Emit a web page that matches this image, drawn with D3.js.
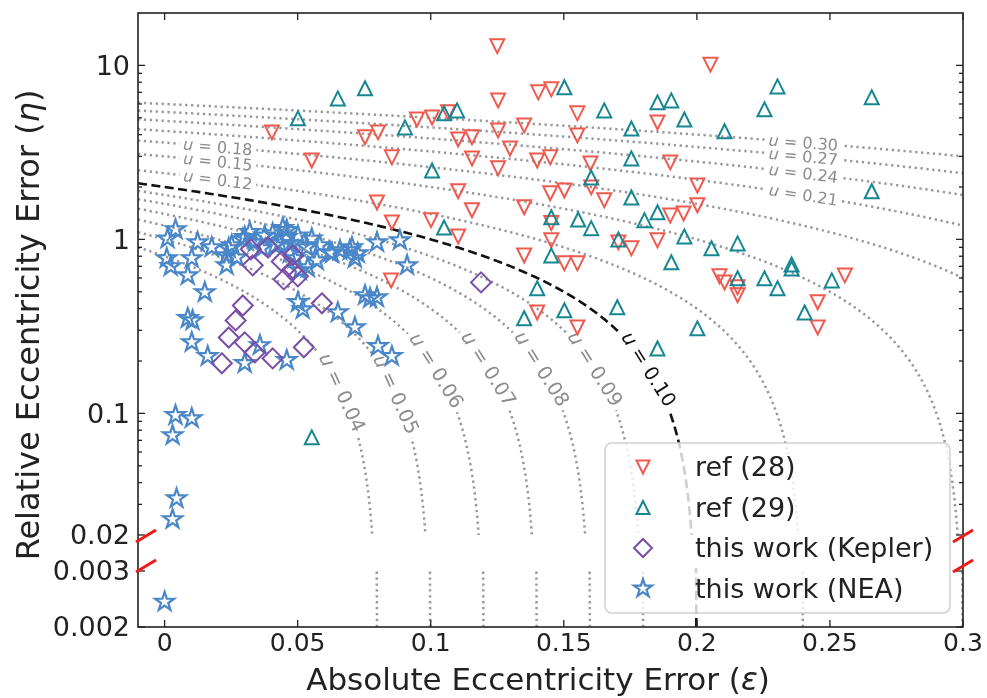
<!DOCTYPE html>
<html>
<head>
<meta charset="utf-8">
<script src="https://cdn.jsdelivr.net/npm/d3@7"></script>
<style>
  body { margin: 0; background: #fff; }
  text { font-family: "DejaVu Sans", sans-serif; fill: #222; }
</style>
</head>
<body>
<div id="chart"></div>
<script>
// ---- data: [absolute error eps, relative error eta] ----
var ref28 = [
  [0.0403,4.12],[0.0553,2.84],[0.0753,3.86],[0.0802,4.12],[0.0854,2.96],[0.0948,4.89],
  [0.1005,5.02],[0.1065,5.37],[0.0798,1.63],[0.0854,1.25],[0.1001,1.29],[0.1103,3.75],
  [0.1103,1.89],[0.1103,1.04],[0.1155,3.86],[0.1155,2.92],[0.1155,1.47],[0.1253,6.29],
  [0.1253,4.23],[0.1253,2.56],[0.1298,3.33],[0.1351,4.52],[0.1351,1.53],[0.1351,0.809],
  [0.140,2.84],[0.1404,7.0],[0.1453,7.28],[0.1449,2.96],[0.1449,1.84],[0.1453,1.24],
  [0.1453,0.987],[0.1502,1.91],[0.1502,0.728],[0.1551,5.30],[0.1551,3.96],[0.1551,0.728],
  [0.160,2.73],[0.1603,1.99],[0.1652,1.68],[0.1705,0.961],[0.1754,0.888],[0.1852,4.70],
  [0.1852,0.987],[0.190,2.77],[0.190,1.37],[0.195,1.41],[0.2002,2.04],[0.2002,1.57],
  [0.2051,10.1],[0.2085,0.613],[0.2104,0.566],[0.2153,0.530],[0.2153,0.477],[0.2556,0.621],
  [0.2454,0.435],[0.2454,0.312],[0.0851,0.581],[0.140,0.380],[0.1551,0.312],[0.125,12.9]
];
var ref29 = [
  [0.0501,4.96],[0.0651,6.46],[0.0753,7.38],[0.0903,4.40],[0.1005,2.49],[0.105,5.30],
  [0.1099,5.51],[0.105,1.17],[0.1502,7.48],[0.1652,5.51],[0.1852,6.13],[0.1904,6.29],
  [0.1953,4.89],[0.1754,4.34],[0.1754,2.92],[0.1603,2.27],[0.1754,1.74],[0.1852,1.43],
  [0.1803,1.29],[0.1554,1.30],[0.1603,1.16],[0.1453,1.34],[0.1705,1.0],[0.1953,1.04],
  [0.2055,0.888],[0.1904,0.738],[0.1453,0.809],[0.2104,4.18],[0.2303,7.57],[0.2657,6.55],
  [0.2254,5.59],[0.2657,1.89],[0.2153,0.948],[0.2153,0.597],[0.2254,0.597],[0.2303,0.523],
  [0.2356,0.718],[0.2356,0.681],[0.2507,0.581],[0.2405,0.380],[0.2002,0.308],[0.140,0.523],
  [0.1351,0.352],[0.1502,0.391],[0.1701,0.407],[0.1852,0.236],[0.0553,0.0728]
];
var kepler = [
  [0.0324,0.877],[0.0388,0.900],[0.0331,0.709],[0.044,0.747],[0.0482,0.809],[0.0448,0.589],
  [0.0501,0.613],[0.0478,0.664],[0.0294,0.417],[0.0267,0.342],[0.0241,0.273],[0.0301,0.256],
  [0.0339,0.224],[0.0215,0.194],[0.0406,0.207],[0.0523,0.240],[0.0591,0.429],[0.1189,0.566]
];
var nea = [
  [0.0041,1.14],[0.0011,1.01],[0.0008,0.778],[0.0023,0.70],[0.0124,0.961],[0.0177,0.90],
  [0.0102,0.778],[0.0087,0.621],[0.0151,0.496],[0.0233,0.709],[0.0252,0.924],[0.0233,0.809],
  [0.0271,0.788],[0.0301,1.03],[0.0339,0.961],[0.0376,1.05],[0.0406,1.08],[0.0444,1.16],
  [0.0433,0.948],[0.0459,1.03],[0.0459,1.13],[0.0501,1.05],[0.0534,0.90],[0.0583,0.924],
  [0.0629,0.831],[0.0572,0.757],[0.0538,0.690],[0.0508,0.663],[0.0704,0.90],[0.0726,0.831],
  [0.0715,0.778],[0.0798,0.961],[0.0884,0.987],[0.0911,0.709],[0.0753,0.477],[0.0772,0.458],
  [0.0798,0.464],[0.0501,0.435],[0.0519,0.396],[0.0087,0.352],[0.0105,0.342],[0.0102,0.256],
  [0.0162,0.213],[0.0301,0.194],[0.0358,0.246],[0.0459,0.202],[0.0651,0.380],[0.0715,0.312],
  [0.0802,0.243],[0.0854,0.213],[0.0041,0.0975],[0.0102,0.0936],[0.003,0.0748],[0.0045,0.0324],
  [0.003,0.0246],[0.0,0.0024],[0.0241,0.888],[0.0294,1.0],[0.0621,0.842],[0.0696,0.865],
  [0.047,0.831],[0.0489,0.778],[0.0365,0.888],[0.032,1.10],[0.0414,0.924],[0.0478,0.948],
  [0.0553,1.01],[0.0659,0.865]
];

// constant-u levels and where each label sits along its curve (eps)
var uLevels   = [0.04, 0.05, 0.06, 0.07, 0.08, 0.09, 0.10, 0.12, 0.15, 0.18, 0.21, 0.24, 0.27, 0.30];
var labelEps  = [0.0668, 0.0871, 0.1023, 0.1219, 0.1419, 0.1619, 0.182, 0.02, 0.02, 0.02, 0.24, 0.24, 0.24, 0.24];
var xTicks = [0, 0.05, 0.1, 0.15, 0.2, 0.25, 0.3];
var yTicksTop = [0.02, 0.1, 1, 10];
var yTicksBot = [0.002, 0.003];
var legendNames = ["ref (28)", "ref (29)", "this work (Kepler)", "this work (NEA)"];

// eta on the constant-u contour:  u = eps/2 + 0.05*eta
function etaOf(u, eps) { return (2 * u - eps) / 0.1; }

var W = 987, H = 698;
var L = 138, R = 963, T = 13, B = 627;
var topBottom = 535, botTop = 568;

var svg = d3.select("#chart").append("svg")
  .attr("width", W).attr("height", H);

var x = d3.scaleLinear().domain([-0.01, 0.3]).range([L, R]);
var yTop = d3.scaleLog().domain([0.02, 20]).range([topBottom, T]);
var yBot = d3.scaleLog().domain([0.002, 0.003]).range([B, 571]);
var etaBotMax = yBot.invert(botTop);

function yOf(eta) { return eta >= 0.0199 ? yTop(eta) : yBot(eta); }

var defs = svg.append("defs");
defs.append("clipPath").attr("id", "clipTop").append("rect")
  .attr("x", L).attr("y", T).attr("width", R - L).attr("height", topBottom - T);
defs.append("clipPath").attr("id", "clipBot").append("rect")
  .attr("x", L).attr("y", botTop).attr("width", R - L).attr("height", B - botTop);
var mask = defs.append("mask").attr("id", "gaps").attr("maskUnits", "userSpaceOnUse")
  .attr("x", 0).attr("y", 0).attr("width", W).attr("height", H);
mask.append("rect").attr("width", W).attr("height", H).attr("fill", "white");

// ---- contour curves ----
var curves = svg.append("g").attr("mask", "url(#gaps)");
var line = d3.line();

uLevels.forEach(function(u) {
  var dashed = Math.abs(u - 0.10) < 1e-9;
  var col = dashed ? "#111" : "#999";
  var dash = dashed ? "9,4.5" : "2.3,3.6";
  var sw = dashed ? 2.6 : 2.5;
  var etaMax = etaOf(u, -0.01);
  var pts = [];
  var n = 400;
  for (var i = 0; i <= n; i++) {
    var eta = Math.exp(Math.log(etaMax) + (Math.log(0.0195) - Math.log(etaMax)) * i / n);
    var e = 2 * u - 0.1 * eta;
    pts.push([x(e), yTop(eta)]);
  }
  curves.append("path").attr("clip-path", "url(#clipTop)")
    .attr("d", line(pts)).attr("fill", "none")
    .attr("stroke", col).attr("stroke-width", sw).attr("stroke-dasharray", dash);
  // lower panel part
  var low = [];
  for (var j = 0; j <= 20; j++) {
    var et = 0.002 + (etaBotMax - 0.002) * j / 20;
    low.push([x(2 * u - 0.1 * et), yBot(et)]);
  }
  curves.append("path").attr("clip-path", "url(#clipBot)")
    .attr("d", line(low)).attr("fill", "none")
    .attr("stroke", col).attr("stroke-width", sw).attr("stroke-dasharray", dash);
});

// ---- contour labels (inline, with gaps cut in the curves) ----
var labels = svg.append("g");
uLevels.forEach(function(u, i) {
  var e = labelEps[i];
  var d = 0.002;
  var p1 = [x(e - d), yTop(etaOf(u, e - d))];
  var p2 = [x(e + d), yTop(etaOf(u, e + d))];
  var cx = x(e), cy = yTop(etaOf(u, e));
  var ang = Math.atan2(p2[1] - p1[1], p2[0] - p1[0]) * 180 / Math.PI;
  var big = u <= 0.10 + 1e-9;
  var fs = big ? 19.5 : 16;
  var t = labels.append("text")
    .attr("transform", "translate(" + cx + "," + cy + ") rotate(" + ang + ")")
    .attr("text-anchor", "middle").attr("dy", "0.35em")
    .style("font-size", fs + "px")
    .style("fill", Math.abs(u - 0.10) < 1e-9 ? "#111" : "#8c8c8c");
  t.append("tspan").style("font-style", "italic").text("u");
  t.append("tspan").text(" = " + u.toFixed(2));
  var w = t.node().getComputedTextLength();
  mask.append("rect")
    .attr("transform", "translate(" + cx + "," + cy + ") rotate(" + ang + ")")
    .attr("x", -w / 2 - 4).attr("y", -fs * 0.6).attr("width", w + 8).attr("height", fs * 1.2)
    .attr("fill", "black");
});

// ---- marker shapes ----
function triDown(h) { return "M0," + h + "L" + (-h) + "," + (-h) + "L" + h + "," + (-h) + "Z"; }
function triUp(h) { return "M0," + (-h) + "L" + (-h) + "," + h + "L" + h + "," + h + "Z"; }
function diamond(r) { return "M0," + (-r) + "L" + r + ",0L0," + r + "L" + (-r) + ",0Z"; }
function star(R) {
  var p = [];
  for (var k = 0; k < 10; k++) {
    var rr = k % 2 ? R * 0.382 : R;
    var a = -Math.PI / 2 + k * Math.PI / 5;
    p.push([rr * Math.cos(a), rr * Math.sin(a)]);
  }
  return "M" + p.map(function(q) { return q[0].toFixed(2) + "," + q[1].toFixed(2); }).join("L") + "Z";
}

var series = [
  { data: ref28, color: "#ef5a4f", shape: triDown(7), legendShape: triDown(6.5), sw: 2 },
  { data: ref29, color: "#168791", shape: triUp(7), legendShape: triUp(6.5), sw: 2 },
  { data: kepler, color: "#7a4ea6", shape: diamond(10), legendShape: diamond(9), sw: 2 },
  { data: nea, color: "#4a87c9", shape: star(10), legendShape: star(9.5), sw: 2.2 }
];

var drawOrder = [0, 1, 3, 2];
drawOrder.forEach(function(si) {
  var s = series[si];
  svg.append("g").selectAll("path")
    .data(s.data).enter().append("path")
    .attr("transform", function(d) { return "translate(" + x(d[0]) + "," + yOf(d[1]) + ")"; })
    .attr("d", s.shape)
    .attr("fill", "none").attr("stroke", s.color)
    .attr("stroke-width", s.sw).attr("stroke-linejoin", "miter");
});

// ---- frame and ticks ----
var ax = svg.append("g").attr("stroke", "#222");
ax.append("rect").attr("x", L).attr("y", T).attr("width", R - L).attr("height", B - T)
  .attr("fill", "none").attr("stroke-width", 1.6);

xTicks.forEach(function(v) {
  ax.append("line").attr("x1", x(v)).attr("x2", x(v)).attr("y1", B).attr("y2", B - 7).attr("stroke-width", 1.3);
  ax.append("line").attr("x1", x(v)).attr("x2", x(v)).attr("y1", T).attr("y2", T + 7).attr("stroke-width", 1.3);
  svg.append("text").attr("x", x(v)).attr("y", B + 24).attr("text-anchor", "middle")
    .style("font-size", "25px").text(v === 0 ? "0" : d3.format("~g")(v));
});

function yTick(yy, len) {
  ax.append("line").attr("x1", L).attr("x2", L + len).attr("y1", yy).attr("y2", yy).attr("stroke-width", 1.3);
  ax.append("line").attr("x1", R).attr("x2", R - len).attr("y1", yy).attr("y2", yy).attr("stroke-width", 1.3);
}
yTicksTop.forEach(function(v) {
  yTick(yTop(v), 7);
  svg.append("text").attr("x", L - 8).attr("y", yTop(v)).attr("dy", "0.35em")
    .attr("text-anchor", "end").style("font-size", "27px").text(d3.format("~g")(v));
});
[0.01, 0.1, 1, 10].forEach(function(dec) {
  for (var m = 2; m <= 9; m++) {
    var v = m * dec;
    if (v > 0.0201 && v < 19.9) yTick(yTop(v), 4);
  }
});
yTicksBot.forEach(function(v) {
  yTick(yBot(v), 7);
  svg.append("text").attr("x", L - 8).attr("y", yBot(v)).attr("dy", "0.35em")
    .attr("text-anchor", "end").style("font-size", "27px").text(d3.format("~g")(v));
});

// axis break marks
[L + 8, R].forEach(function(cx) {
  [536, 566].forEach(function(cy) {
    svg.append("line").attr("x1", cx - 10).attr("y1", cy + 6).attr("x2", cx + 10).attr("y2", cy - 6)
      .attr("stroke", "#f01818").attr("stroke-width", 3);
  });
});

// axis titles
var xl = svg.append("text").attr("x", 538).attr("y", 690).attr("text-anchor", "middle")
  .style("font-size", "31px");
xl.append("tspan").text("Absolute Eccentricity Error (");
xl.append("tspan").style("font-style", "italic").text("ε");
xl.append("tspan").text(")");

var yl = svg.append("text").attr("transform", "translate(39,325) rotate(-90)")
  .attr("text-anchor", "middle").style("font-size", "32px");
yl.append("tspan").text("Relative Eccentricity Error (");
yl.append("tspan").style("font-style", "italic").text("η");
yl.append("tspan").text(")");

// ---- legend ----
var lg = svg.append("g");
lg.append("rect").attr("x", 605).attr("y", 443).attr("width", 345).attr("height", 170)
  .attr("rx", 7).attr("fill", "white").attr("fill-opacity", 0.8)
  .attr("stroke", "#cfcfcf").attr("stroke-width", 1.5);
series.forEach(function(s, i) {
  var yy = 467 + i * 40.5;
  lg.append("path").attr("transform", "translate(643," + yy + ")").attr("d", s.legendShape)
    .attr("fill", "none").attr("stroke", s.color).attr("stroke-width", s.sw);
  lg.append("text").attr("x", 695).attr("y", yy).attr("dy", "0.35em")
    .style("font-size", "27px").text(legendNames[i]);
});
</script>
</body>
</html>
